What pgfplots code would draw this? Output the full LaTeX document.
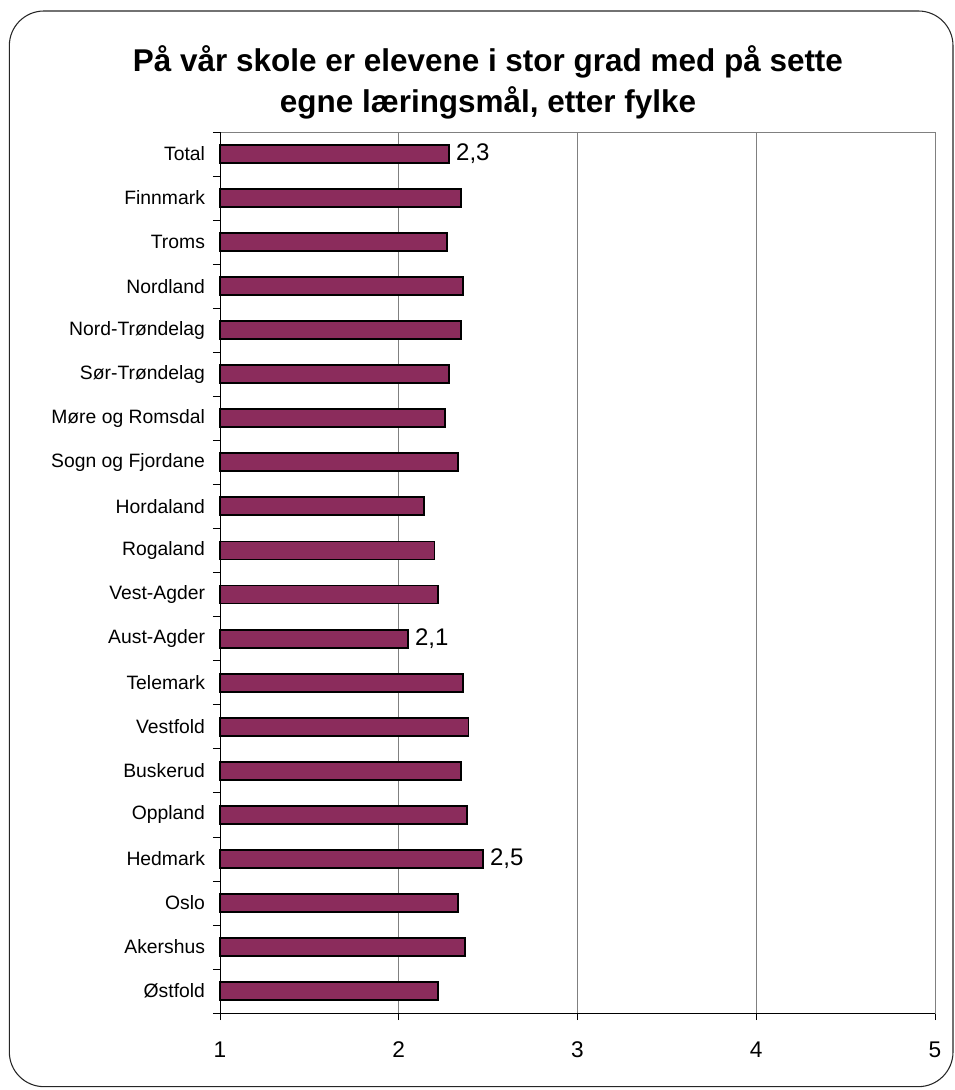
\documentclass[border=0pt]{standalone}
\usepackage{pgfplots}
\pgfplotsset{compat=1.18}
\usepackage{fontspec}
\setmainfont{Liberation Sans}
\definecolor{barfill}{RGB}{139,44,92}
\definecolor{gridgray}{RGB}{128,128,128}
\begin{document}
\begin{tikzpicture}
\path (0pt,0pt) rectangle (716.25pt,817.5pt);
\draw[line width=0.8pt, rounded corners=26pt, black!85] (7pt,2.5pt) rectangle (714.75pt,809.25pt);
\node[align=center, font=\fontsize{23.6}{30.75}\selectfont\bfseries] at (366pt,755.6pt)
  {På vår skole er elevene i stor grad med på sette\\egne læringsmål, etter fylke};
\begin{axis}[
  at={(165pt,57.75pt)}, anchor=south west,
  scale only axis, width=536.25pt, height=660.75pt,
  xmin=1, xmax=5, ymin=-0.5, ymax=19.5,
  xtick={1,2,3,4,5},
  ytick={0,...,19},
  yticklabels={Østfold,Akershus,Oslo,Hedmark,Oppland,Buskerud,Vestfold,Telemark,Aust-Agder,Vest-Agder,Rogaland,Hordaland,Sogn og Fjordane,Møre og Romsdal,Sør-Trøndelag,Nord-Trøndelag,Nordland,Troms,Finnmark,Total},
  minor ytick={-0.5,0.5,...,19.5},
  major y tick style={draw=none},
  minor y tick style={black, thin},
  minor tick length=5.25pt,
  x tick style={black, thin},
  major tick length=5.25pt,
  tick align=outside,
  xtick pos=bottom, ytick pos=left,
  xmajorgrids, major grid style={gridgray, thin},
  axis line style={gridgray, thin},
  yticklabel style={font=\fontsize{14.5}{16}\selectfont, xshift=-2.5pt},
  xticklabel style={font=\fontsize{17}{18}\selectfont, yshift=-13pt},
  /pgf/number format/assume math mode=true,
  clip=false,
]
\addplot[xbar, bar shift=0pt, bar width=13.5pt, fill=barfill, draw=black, line width=1.4pt]
  coordinates {
  (2.22,0) (2.37,1) (2.33,2) (2.47,3) (2.38,4) (2.35,5) (2.39,6) (2.36,7) (2.05,8) (2.22,9)
  (2.20,10) (2.14,11) (2.33,12) (2.26,13) (2.28,14) (2.35,15) (2.36,16) (2.27,17) (2.35,18) (2.28,19)
  };
\addplot[only marks, mark=none, point meta=explicit symbolic,
  nodes near coords, nodes near coords align={anchor=west},
  every node near coord/.append style={font=\fontsize{18}{20}\selectfont, xshift=2pt}]
  coordinates {(2.28,19) [{2,3}] (2.05,8) [{2,1}] (2.47,3) [{2,5}]};
\draw[black, thin] (rel axis cs:0,0) -- (rel axis cs:1,0);
\draw[black, thin] (rel axis cs:0,0) -- (rel axis cs:0,1);
\end{axis}
\end{tikzpicture}
\end{document}
